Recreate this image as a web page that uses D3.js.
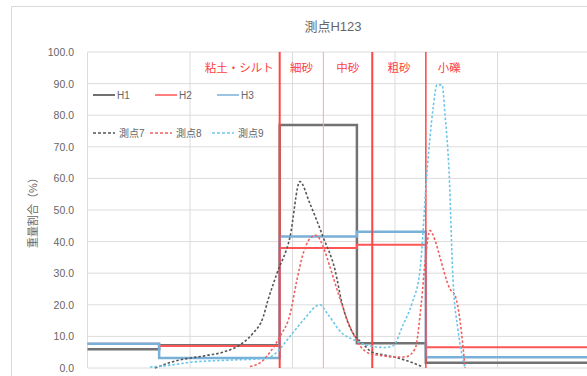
<!DOCTYPE html>
<html><head><meta charset="utf-8">
<script src="https://cdn.jsdelivr.net/npm/d3@7"></script>
<style>html,body{margin:0;padding:0;background:#fff;}svg{display:block;font-family:"Liberation Sans","Noto Sans CJK JP",sans-serif;}</style>
</head><body><div id="chart"></div>
<script>
// ---- data ----
const title = "測点H123";
const yTitle = "重量割合（%）";
const yTicks = [0,10,20,30,40,50,60,70,80,90,100];
const xGrid = [0.001, 0.01, 0.1, 1, 10, 100];
// step series (H1..H3): bins by grain size (mm)
const binEdges = [0.001, 0.005, 0.075, 0.425, 2];
const H1 = [5.9, 7.2, 76.9, 7.8, 1.7];
const H2 = [7.7, 7.0, 38.0, 39.0, 6.6];
const H3 = [7.7, 3.2, 41.6, 43.1, 3.4];
// soil class boundaries and labels
const zoneEdges = [0.075, 0.2, 0.6, 2];
const zoneNames = ["粘土・シルト", "細砂", "中砂", "粗砂", "小礫"];
// frequency curves
const pt7Size = [0.00455,0.00682,0.0147,0.021,0.0329,0.0412,0.0516,0.0577,0.0706,0.0946,0.118,0.148,0.1985,0.26,0.304,0.389,0.477,0.597,0.764,1.0,1.31,1.876];
const pt7 = [0,2,4,5,8,11,16,21.5,30,41.5,59,52,41.5,31,20.5,11,8,5,4.2,3.4,2.3,0.3];
const pt8Size = [0.0385,0.05,0.0603,0.0755,0.0946,0.1107,0.1265,0.148,0.17,0.1985,0.232,0.29,0.364,0.456,0.57,0.714,0.956,1.253,1.567,1.8,2.0,2.195,2.455,2.748,3.44,3.85,4.31,4.61,4.82];
const pt8 = [0.5,2,5,10,17,28,36,41,42,38.5,32,22,13,7,4.5,4,3.5,3.5,6,20,36,43.5,40.5,35,25,23,15,6.6,0];
const pt9Size = [0.00407,0.0068,0.01,0.0246,0.0539,0.0675,0.0946,0.1265,0.1855,0.217,0.304,0.389,0.57,0.798,0.956,1.197,1.466,1.754,2.052,2.349,2.57,2.876,3.08,3.37,3.68,4.12,4.82];
const pt9 = [0.3,1,1.8,2.5,3,4.5,10,15,20,17.4,11,9,7,6.5,7,13.6,20.5,31,62,82,89.6,89.6,80,62,28,12,0];
const stepNames = ["H1","H2","H3"];
const curveNames = ["測点7","測点8","測点9"];

// ---- layout ----
const W = 587, H = 376;
const svg = d3.select("#chart").append("svg").attr("width", W).attr("height", H);
const x = d3.scaleLog().domain([0.001, 100]).range([87.5, 600]);
const y = d3.scaleLinear().domain([0, 100]).range([368, 52]);
const xRight = x.invert(W);

// chart border (top and left visible)
svg.append("path").attr("d", `M11.5,${H} V6.5 H${W}`).attr("fill","none").attr("stroke","#d9d9d9");

// title
svg.append("text").attr("x", 333).attr("y", 31).attr("text-anchor","middle")
  .attr("font-size", 13).attr("fill","#666").text(title);

// gridlines
const grid = svg.append("g");
grid.selectAll("line.h").data(yTicks).join("line")
  .attr("x1", x(0.001)).attr("x2", W).attr("y1", d=>y(d)).attr("y2", d=>y(d))
  .attr("stroke","#dcdcdc").attr("stroke-width",1);
grid.selectAll("line.v").data(xGrid.filter(d=>x(d)<=W)).join("line")
  .attr("x1", d=>x(d)).attr("x2", d=>x(d)).attr("y1", y(0)).attr("y2", y(100))
  .attr("stroke","#dcdcdc").attr("stroke-width",1);

// y axis labels
svg.append("g").selectAll("text").data(yTicks).join("text")
  .attr("x", 74).attr("y", d=>y(d)+4).attr("text-anchor","end")
  .attr("font-size", 10.5).attr("fill","#666").text(d=>d3.format(".1f")(d));

// y title
svg.append("text").attr("transform", `translate(37,${(y(0)+y(100))/2}) rotate(-90)`)
  .attr("text-anchor","middle").attr("font-size",11).attr("fill","#666").text(yTitle);

// step series
const stepColors = ["#727272", "#ff5555", "#78b0d8"];
const stepWidths = [2.5, 2, 2.5];
const stepLine = d3.line().x(d=>x(d[0])).y(d=>y(d[1])).curve(d3.curveStepAfter);
[H1, H2, H3].forEach((vals, i) => {
  const pts = binEdges.map((e, j) => [e, vals[j]]);
  pts.push([xRight, vals[vals.length-1]]);
  svg.append("path").attr("d", stepLine(pts)).attr("fill","none")
    .attr("stroke", stepColors[i]).attr("stroke-width", stepWidths[i]);
});

// zone boundaries
const zoneW = [2, 1, 2, 1.5];
const zoneC = ["#ff4444", "#f7a8a8", "#ff4444", "#ff4444"];
svg.append("g").selectAll("line").data(zoneEdges).join("line")
  .attr("x1", d=>x(d)).attr("x2", d=>x(d)).attr("y1", y(0)).attr("y2", y(100))
  .attr("stroke", (d,i)=>zoneC[i]).attr("stroke-width", (d,i)=>zoneW[i]);

// zone labels
const zoneBounds = [0.001, ...zoneEdges, 4.75];
const zl = svg.append("g").attr("font-size", 11.5).attr("fill", "#ff4040");
zoneNames.forEach((n, i) => {
  const a = zoneBounds[i], b = zoneBounds[i+1];
  let px, anchor = "middle";
  if (i === 0) { px = x(b) - 6; anchor = "end"; }
  else if (i === zoneNames.length-1) { px = x(a) + 12; anchor = "start"; }
  else px = (x(a) + x(b)) / 2;
  zl.append("text").attr("x", px).attr("y", 72).attr("text-anchor", anchor).text(n);
});

// dashed curves
const curveColors = ["#555555", "#f25f5f", "#6cc6ea"];
const cLine = d3.line().x(d=>x(d[0])).y(d=>y(d[1])).curve(d3.curveMonotoneX);
[[pt7Size, pt7], [pt8Size, pt8], [pt9Size, pt9]].forEach(([s, v], i) => {
  svg.append("path").attr("d", cLine(s.map((d, j) => [d, v[j]])))
    .attr("fill","none").attr("stroke", curveColors[i]).attr("stroke-width", 1.6)
    .attr("stroke-dasharray", "2.5,2");
});

// legend
const lg = svg.append("g").attr("font-size", 10).attr("fill", "#666");
const legCols1 = [93, 155, 217];
stepNames.forEach((n, i) => {
  const lx = legCols1[i], ly = 95;
  lg.append("line").attr("x1", lx).attr("x2", lx+22).attr("y1", ly).attr("y2", ly)
    .attr("stroke", i===0 ? "#404040" : stepColors[i]).attr("stroke-width", 1.5);
  lg.append("text").attr("x", lx+24).attr("y", ly+3.5).text(n);
});
const legCols2 = [93, 150, 212];
curveNames.forEach((n, i) => {
  const lx = legCols2[i], ly = 133;
  lg.append("line").attr("x1", lx).attr("x2", lx+22).attr("y1", ly).attr("y2", ly)
    .attr("stroke", curveColors[i]).attr("stroke-width", 1.5).attr("stroke-dasharray","3,2");
  lg.append("text").attr("x", lx+26).attr("y", ly+3.5).text(n);
});
</script>
</body></html>
